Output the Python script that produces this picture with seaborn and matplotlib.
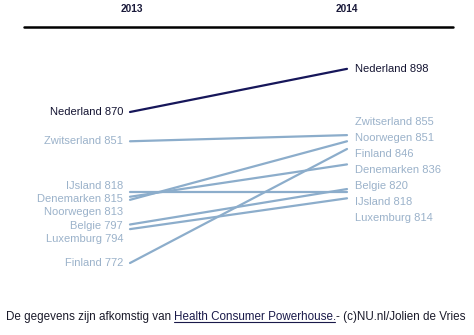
import matplotlib
matplotlib.use("Agg")
import matplotlib.pyplot as plt
import seaborn as sns
import pandas as pd

countries = ["Nederland", "Zwitserland", "IJsland", "Denemarken", "Noorwegen", "Belgie", "Luxemburg", "Finland"]
values_2013 = [870, 851, 818, 815, 813, 797, 794, 772]
values_2014 = [898, 855, 818, 836, 851, 820, 814, 846]
years = [2013, 2014]
highlight = "Nederland"
footer_pre = "De gegevens zijn afkomstig van "
footer_link = "Health Consumer Powerhouse."
footer_post = "- (c)NU.nl/Jolien de Vries"

sns.set_style("white")
plt.rcParams["font.family"] = ["Liberation Sans", "DejaVu Sans"]

DARK = "#16165a"
LIGHT_LINE = "#8cadcb"
LIGHT_TEXT = "#9bb2ca"

W, H = 474, 335
fig = plt.figure(figsize=(W / 100, H / 100), dpi=100)
ax = fig.add_axes([0, 0, 1, 1])

# pixel mapping: 2013 -> x=130px, 2014 -> x=347px ; value 870 -> y=112px, 1.541 px/unit
x0px, x1px = 130, 347
pxu = 1.541
ax.set_xlim(2013 - x0px / (x1px - x0px), 2013 + (W - x0px) / (x1px - x0px))
ax.set_ylim(870 - (H - 112) / pxu, 870 + 112 / pxu)
ax.axis("off")

rows = []
for c, a, b in zip(countries, values_2013, values_2014):
    rows.append({"country": c, "year": years[0], "value": a})
    rows.append({"country": c, "year": years[1], "value": b})
df = pd.DataFrame(rows)
palette = {c: (DARK if c == highlight else LIGHT_LINE) for c in countries}
order = [c for c in countries if c != highlight] + [highlight]
sns.lineplot(data=df, x="year", y="value", hue="country", hue_order=order,
             palette=palette, legend=False, linewidth=1.6, ax=ax, sort=False)


def repel(vals, gap_units, bias=0.0):
    # block merging so labels keep a minimum spacing, centred on their data values
    idx = sorted(range(len(vals)), key=lambda i: -vals[i])
    blocks = []
    for i in idx:
        blocks.append([i])
        while len(blocks) > 1:
            prev, cur = blocks[-2], blocks[-1]
            def pos(b):
                m = sum(vals[j] for j in b) / len(b)
                top = m + gap_units * (len(b) - 1) / 2
                return top, top - gap_units * (len(b) - 1)
            _, pbot = pos(prev)
            ctop, _ = pos(cur)
            if pbot - ctop < gap_units:
                blocks[-2] = prev + cur
                blocks.pop()
            else:
                break
    out = [0] * len(vals)
    for b in blocks:
        m = sum(vals[j] for j in b) / len(b)
        shift = bias if len(b) > 1 else 0.0
        top = m + gap_units * (len(b) - 1) / 2 - shift
        for k, j in enumerate(b):
            out[j] = top - k * gap_units
    return out


left_pos = repel(values_2013, 13.2 / pxu, bias=4 / pxu)
right_pos = repel(values_2014, 16 / pxu, bias=3 / pxu)

for c, v, p in zip(countries, values_2013, left_pos):
    col = "#141432" if c == highlight else LIGHT_TEXT
    ax.text(years[0] - 7 / (x1px - x0px), p, f"{c} {v}", ha="right", va="center",
            fontsize=8, color=col)
for c, v, p in zip(countries, values_2014, right_pos):
    col = "#141432" if c == highlight else LIGHT_TEXT
    ax.text(years[1] + 8 / (x1px - x0px), p, f"{c} {v}", ha="left", va="center",
            fontsize=8, color=col)

# header
for yr, xp in zip(years, [x0px + 2, x1px]):
    fig.text(xp / W, 1 - 9 / H, str(yr), ha="center", va="center", fontsize=7.3,
             fontweight="bold", color="#1a1a3a")
fig.add_artist(plt.Line2D([24 / W, 453 / W], [1 - 26.5 / H, 1 - 26.5 / H],
                          color="black", linewidth=1.8))

# footer with underlined link
fig.canvas.draw()
renderer = fig.canvas.get_renderer()
fy = 1 - 317 / H
fx = 6 / W
fs = 8.35
t1 = fig.text(fx, fy, footer_pre, ha="left", va="center", fontsize=fs, color="#1a1a2a")
bb = t1.get_window_extent(renderer)
t2 = fig.text(bb.x1 / W, fy, footer_link, ha="left", va="center", fontsize=fs, color="#1a1a4a")
bb2 = t2.get_window_extent(renderer)
t3 = fig.text(bb2.x1 / W, fy, footer_post, ha="left", va="center", fontsize=fs, color="#1a1a2a")
uy = (bb2.y0 + 1.5) / H
fig.add_artist(plt.Line2D([bb2.x0 / W, (bb2.x1 - 2) / W], [uy, uy], color="#1a1a4a", linewidth=0.8))

fig.savefig("out.png", dpi=100)
